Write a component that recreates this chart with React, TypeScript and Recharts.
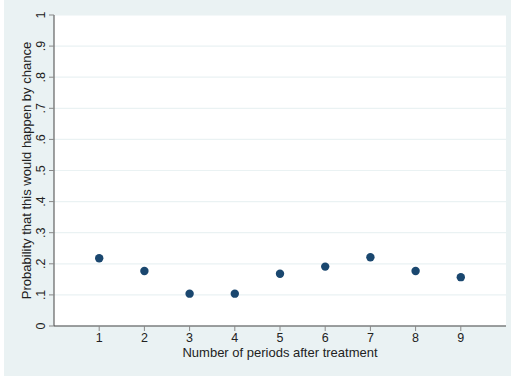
import React from 'react';
import { ScatterChart, Scatter, XAxis, YAxis, CartesianGrid, Label } from 'recharts';

const periods = [1, 2, 3, 4, 5, 6, 7, 8, 9];
const probabilities = [0.218, 0.177, 0.104, 0.104, 0.168, 0.191, 0.221, 0.177, 0.157];
const xTicks = [1, 2, 3, 4, 5, 6, 7, 8, 9];
const yTicks = [0, 0.1, 0.2, 0.3, 0.4, 0.5, 0.6, 0.7, 0.8, 0.9, 1];

const data = periods.map((p, i) => ({ period: p, prob: probabilities[i] }));

const FONT = '"Liberation Sans", Arial, Helvetica, sans-serif';
const BG = '#eaf2f3';
const DOT = '#1a476f';

const fmtY = (v: number) => (v === 0 || v === 1 ? String(v) : v.toFixed(1).replace(/^0/, ''));

// stata-style vertical y tick labels
const YTick = (props: any) => {
  const { y, payload } = props;
  const x = 41;
  return (
    <text
      x={x}
      y={y}
      transform={`rotate(-90, ${x}, ${y})`}
      textAnchor="middle"
      dominantBaseline="central"
      fontSize={12.5}
      fontFamily={FONT}
      fill="#222"
    >
      {fmtY(payload.value)}
    </text>
  );
};

const Dot = (props: any) => <circle cx={props.cx} cy={props.cy} r={4.2} fill={DOT} />;

export default function App() {
  return (
    <div style={{ position: 'absolute', top: 0, left: 0, width: 515, height: 378, background: '#fff' }}>
      <div style={{ position: 'absolute', top: 0, left: 4, width: 507, height: 376, background: BG }} />
      <div style={{ position: 'absolute', top: 0, left: 0 }}>
        <ScatterChart width={515} height={378} margin={{ top: 15, right: 9, bottom: 22, left: 0 }}>
          <CartesianGrid vertical={false} fill="#fff" stroke={BG} strokeWidth={1.2} horizontalValues={yTicks} />
          <XAxis
            type="number"
            dataKey="period"
            domain={[0, 10]}
            ticks={xTicks}
            allowDecimals={false}
            height={30}
            tickSize={5}
            tickMargin={2}
            axisLine={{ stroke: '#444' }}
            tickLine={{ stroke: '#888' }}
            tick={{ fontSize: 12.5, fontFamily: FONT, fill: '#222' }}
          >
            <Label
              value="Number of periods after treatment"
              position="insideBottom"
              offset={-1}
              style={{ fontSize: 13, fontFamily: FONT, fill: '#222' }}
            />
          </XAxis>
          <YAxis
            type="number"
            dataKey="prob"
            domain={[0, 1]}
            ticks={yTicks}
            width={54}
            tickSize={5}
            axisLine={{ stroke: '#444' }}
            tickLine={{ stroke: '#888' }}
            tick={<YTick />}
            label={{
              content: (p: any) => {
                const vb = p.viewBox;
                const cx = 26;
                const cy = vb.y + vb.height / 2;
                return (
                  <text
                    x={cx}
                    y={cy}
                    transform={`rotate(-90, ${cx}, ${cy})`}
                    textAnchor="middle"
                    dominantBaseline="central"
                    fontSize={13}
                    fontFamily={FONT}
                    fill="#222"
                  >
                    Probability that this would happen by chance
                  </text>
                );
              },
            }}
          />
          <Scatter data={data} shape={<Dot />} isAnimationActive={false} />
        </ScatterChart>
      </div>
    </div>
  );
}
